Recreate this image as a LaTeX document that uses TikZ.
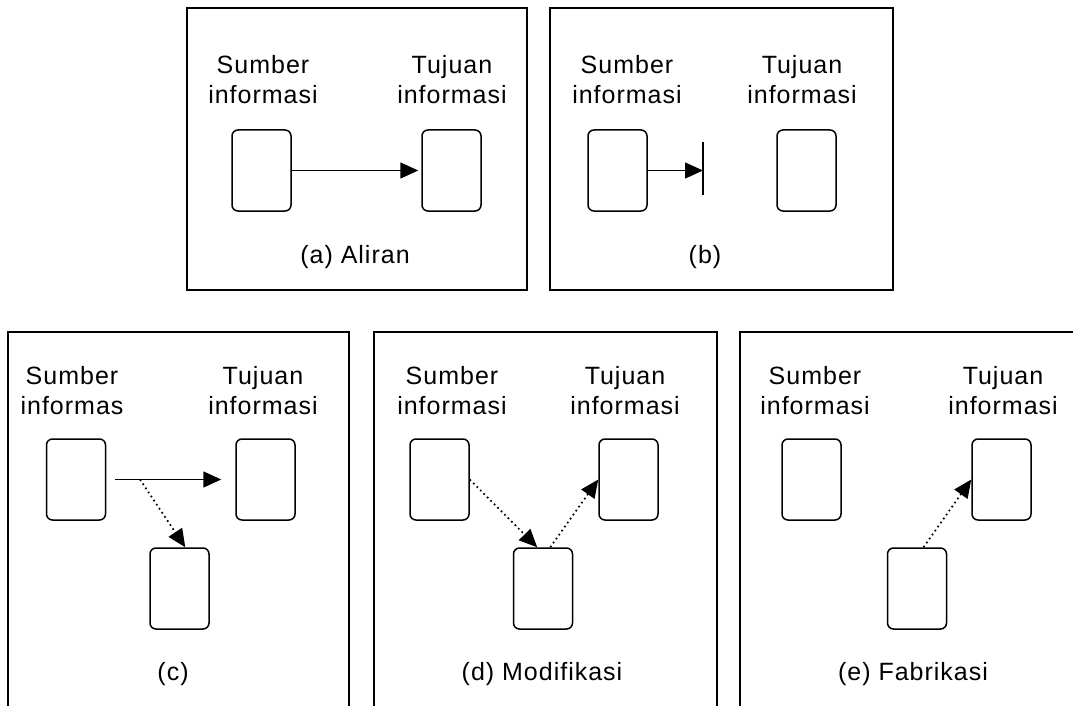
\documentclass[tikz,border=0pt]{standalone}
\usepackage{fontspec}
\setmainfont{Liberation Sans}[LetterSpace=4]
\usetikzlibrary{arrows.meta}
\tikzset{
  panel/.style={draw=black, line width=1.9pt},
  ibox/.style={draw=black, line width=1.5pt, rounded corners=6pt, minimum width=59pt, minimum height=81pt, inner sep=0pt},
  lbl/.style={align=center, inner sep=0pt, font=\fontsize{25}{30}\selectfont},
  captext/.style={inner sep=0pt, font=\fontsize{25}{30}\selectfont},
  flow/.style={line width=1.5pt, -{Triangle[length=18pt,width=16pt]}},
  dflow/.style={line width=1.7pt, dash pattern=on 1.7pt off 3.2pt, -{Triangle[length=18pt,width=16pt]}},
}
\begin{document}
\begin{tikzpicture}[x=1pt,y=-1pt]
\clip (0,0) rectangle (1073,706);
\fill[white] (0,0) rectangle (1073,706);

% ---------- panel (a)
\draw[panel] (187,8) rectangle (527,290);
\node[lbl] (aSl) at (263,80) {Sumber\\informasi};
\node[lbl] (aTl) at (452,80) {Tujuan\\informasi};
\node[ibox] (aS) at (261.5,170.5) {};
\node[ibox] (aT) at (451.5,170.5) {};
\draw[flow, shorten >=3pt] (aS.east) -- (aT.west);
\node[captext] (aC) at (355,257) {(a) Aliran};

% ---------- panel (b)
\draw[panel] (550,8) rectangle (893,290);
\node[lbl] (bSl) at (627,80) {Sumber\\informasi};
\node[lbl] (bTl) at (802,80) {Tujuan\\informasi};
\node[ibox] (bS) at (617.5,170.5) {};
\node[ibox] (bT) at (806.5,170.5) {};
\coordinate (bX) at (703,170.5);
\coordinate (bB1) at (703,142);
\coordinate (bB2) at (703,195);
\draw[flow] (bS.east) -- (bX);
\draw[line width=1.5pt] (bB1) -- (bB2);
\node[captext] (bC) at (705,257) {(b)};

% ---------- panel (c)
\draw[panel] (8,332) rectangle (349,760);
\node[lbl] (cSl) at (72,391) {Sumber\\informas};
\node[lbl] (cTl) at (263,391) {Tujuan\\informasi};
\node[ibox] (cS) at (76,479.5) {};
\node[ibox] (cT) at (265.5,479.5) {};
\node[ibox] (cM) at (179.5,588.5) {};
\coordinate (cJ) at (140,479.5);
\draw[flow, shorten <=9pt, shorten >=14pt] (cS.east) -- (cT.west);
\draw[dflow] (cJ) -- (cM.82);
\node[captext] (cC) at (173,674) {(c)};

% ---------- panel (d)
\draw[panel] (374,332) rectangle (717,760);
\node[lbl] (dSl) at (452,391) {Sumber\\informasi};
\node[lbl] (dTl) at (625,391) {Tujuan\\informasi};
\node[ibox] (dS) at (439.5,479.5) {};
\node[ibox] (dT) at (628.5,479.5) {};
\node[ibox] (dM) at (543,588.5) {};
\draw[dflow] (dS.east) -- (dM.98);
\draw[dflow] (dM.80) -- (dT.west);
\node[captext] (dC) at (542,674) {(d) Modifikasi};

% ---------- panel (e)
\draw[panel] (740,332) rectangle (1100,760);
\node[lbl] (eSl) at (815,391) {Sumber\\informasi};
\node[lbl] (eTl) at (1003,391) {Tujuan\\informasi};
\node[ibox] (eS) at (811.5,479.5) {};
\node[ibox] (eT) at (1001.5,479.5) {};
\node[ibox] (eM) at (917,588.5) {};
\draw[dflow] (eM.81) -- (eT.west);
\node[captext] (eC) at (913,674) {(e) Fabrikasi};
\end{tikzpicture}
\end{document}
